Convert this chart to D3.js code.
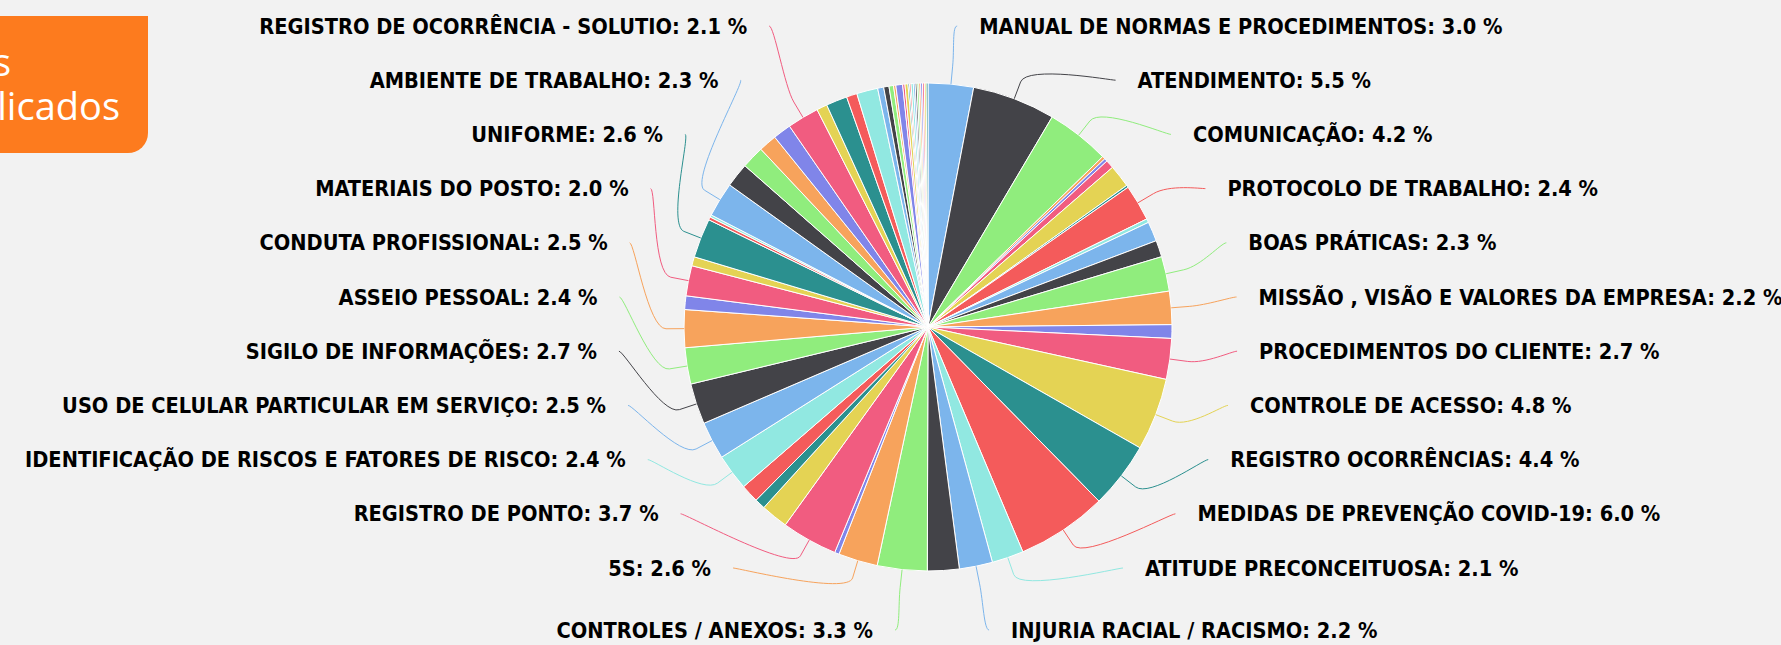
<!DOCTYPE html>
<html>
<head>
<meta charset="utf-8">
<script src="https://cdnjs.cloudflare.com/ajax/libs/d3/7.8.5/d3.min.js"></script>
<style>
  body { margin: 0; background: #f2f2f2; overflow: hidden; }
  .label { font-family: "DejaVu Sans Condensed", "DejaVu Sans", sans-serif; font-weight: bold; font-size: 21.6px; fill: #000; }
  .tab-text { font-family: "Open Sans", "Noto Sans", sans-serif; font-size: 38px; fill: #fff; }
</style>
</head>
<body>
<div id="chart"></div>
<script>

// slice names (blank where the chart shows no label), clockwise from 12 o'clock
var names = [
  "MANUAL DE NORMAS E PROCEDIMENTOS", "ATENDIMENTO", "COMUNICAÇÃO", "", "", "", "", "",
  "PROTOCOLO DE TRABALHO", "", "", "", "BOAS PRÁTICAS", "MISSÃO , VISÃO E VALORES DA EMPRESA", "",
  "PROCEDIMENTOS DO CLIENTE", "CONTROLE DE ACESSO", "REGISTRO OCORRÊNCIAS",
  "MEDIDAS DE PREVENÇÃO COVID-19", "ATITUDE PRECONCEITUOSA", "INJURIA RACIAL / RACISMO", "",
  "CONTROLES / ANEXOS", "5S", "", "REGISTRO DE PONTO", "", "", "",
  "IDENTIFICAÇÃO DE RISCOS E FATORES DE RISCO", "USO DE CELULAR PARTICULAR EM SERVIÇO",
  "SIGILO DE INFORMAÇÕES", "ASSEIO PESSOAL", "CONDUTA PROFISSIONAL", "", "MATERIAIS DO POSTO", "",
  "UNIFORME", "", "", "AMBIENTE DE TRABALHO", "", "", "", "", "REGISTRO DE OCORRÊNCIA - SOLUTIO",
  "", "", "", "", "", "", "", "", "", "", "", "", "", "", "", "", "", "", "", "", "", ""
];

// share of each slice (%)
var values = [
  3.0, 5.5, 4.2, 0.2, 0.2, 0.55, 1.5, 0.15, 2.4, 0.25,
  1.3, 1.1, 2.3, 2.2, 0.9, 2.7, 4.8, 4.4, 6.0, 2.1,
  2.2, 2.1, 3.3, 2.6, 0.3, 3.7, 1.8, 0.7, 1.2, 2.4,
  2.5, 2.7, 2.4, 2.5, 0.9, 2.0, 0.6, 2.6, 0.2, 0.15,
  2.3, 1.6, 1.5, 1.2, 1.2, 2.1, 0.7, 1.4, 0.7, 1.4,
  0.4, 0.35, 0.3, 0.15, 0.45, 0.15, 0.2, 0.1, 0.1, 0.15,
  0.12, 0.12, 0.12, 0.12, 0.12, 0.12, 0.12, 0.12
];

// default palette, repeated round the pie
var colors = ["#7cb5ec", "#434348", "#90ed7d", "#f7a35c", "#8085e9",
              "#f15c80", "#e4d354", "#2b908f", "#f45b5b", "#91e8e1"];

// heading tab (only its right end is on screen)
var tabLines = ["Treinamentos", "Aplicados"];

// set the dimensions of the page and the pie
var width = 1781,
    height = 645,
    cx = 928,
    cy = 327,
    radius = 244,
    labelRadius = 310,
    labelGap = 22,
    breakDist = 18;

var svg = d3.select("#chart").append("svg")
    .attr("width", width)
    .attr("height", height);

// orange tab top left
var tab = d3.path();
tab.moveTo(-10, 16);
tab.lineTo(148, 16);
tab.lineTo(148, 133);
tab.arcTo(148, 153, 128, 153, 20);
tab.lineTo(-10, 153);
tab.closePath();
svg.append("path").attr("d", tab.toString()).attr("fill", "#fd7b1e");

svg.selectAll("text.tab-text")
    .data(tabLines)
  .enter().append("text")
    .attr("class", "tab-text")
    .attr("text-anchor", "end")
    .attr("x", function(d, i) { return i === 0 ? 11 : 120; })
    .attr("y", function(d, i) { return 76 + i * 44; })
    .text(function(d) { return d; });

var total = d3.sum(values);
var data = values.map(function(v, i) {
  return { name: names[i], value: v, color: colors[i % colors.length] };
});

var pie = d3.pie().sort(null).value(function(d) { return d.value; });
var arc = d3.arc().innerRadius(0).outerRadius(radius);
var arcs = pie(data);

var g = svg.append("g")
    .attr("transform", "translate(" + cx + "," + cy + ")");

g.selectAll("path.slice")
    .data(arcs)
  .enter().append("path")
    .attr("class", "slice")
    .attr("d", arc)
    .attr("fill", function(d) { return d.data.color; })
    .attr("stroke", "#fff")
    .attr("stroke-width", 1)
    .attr("stroke-linejoin", "round");

// labels go in two columns of rows, connected back to their slice
var labeled = arcs.filter(function(d) { return d.data.name; });
labeled.forEach(function(d) { d.mid = (d.startAngle + d.endAngle) / 2; });
var rightSide = labeled.filter(function(d) { return d.mid < Math.PI; })
    .sort(function(a, b) { return a.mid - b.mid; });
var leftSide = labeled.filter(function(d) { return d.mid >= Math.PI; })
    .sort(function(a, b) { return b.mid - a.mid; });

var rowY = d3.scaleLinear().domain([0, 10]).range([-301, 241]);

function place(list, sign) {
  list.forEach(function(d, i) {
    var n = list.length;
    var y = i === n - 1 ? 303 : rowY(i);
    var x;
    if (i === 0 || i === n - 1) {
      x = labelRadius * Math.sin(d.mid);
    } else {
      x = sign * Math.sqrt(Math.max(0, labelRadius * labelRadius - y * y));
    }
    d.lx = x;
    d.ly = y;
    d.sign = sign;
  });
}
place(rightSide, 1);
place(leftSide, -1);

function connector(d) {
  var sx = Math.sin(d.mid), sy = -Math.cos(d.mid);
  var tx = radius * sx, ty = radius * sy;
  var bx = (radius + breakDist) * sx, by = (radius + breakDist) * sy;
  return "M" + d.lx + "," + d.ly +
    "C" + (d.lx - d.sign * 5) + "," + d.ly + " " +
    (2 * bx - tx) + "," + (2 * by - ty) + " " + bx + "," + by +
    "L" + tx + "," + ty;
}

var all = rightSide.concat(leftSide);

g.selectAll("path.connector")
    .data(all)
  .enter().append("path")
    .attr("class", "connector")
    .attr("d", connector)
    .attr("fill", "none")
    .attr("stroke", function(d) { return d.data.color; })
    .attr("stroke-width", 1);

g.selectAll("text.label")
    .data(all)
  .enter().append("text")
    .attr("class", "label")
    .attr("x", function(d) { return d.lx + d.sign * labelGap; })
    .attr("y", function(d) { return d.ly; })
    .attr("dy", "0.35em")
    .attr("text-anchor", function(d) { return d.sign > 0 ? "start" : "end"; })
    .text(function(d) {
      return d.data.name + ": " + (d.data.value / total * 100).toFixed(1) + " %";
    });

</script>
</body>
</html>
